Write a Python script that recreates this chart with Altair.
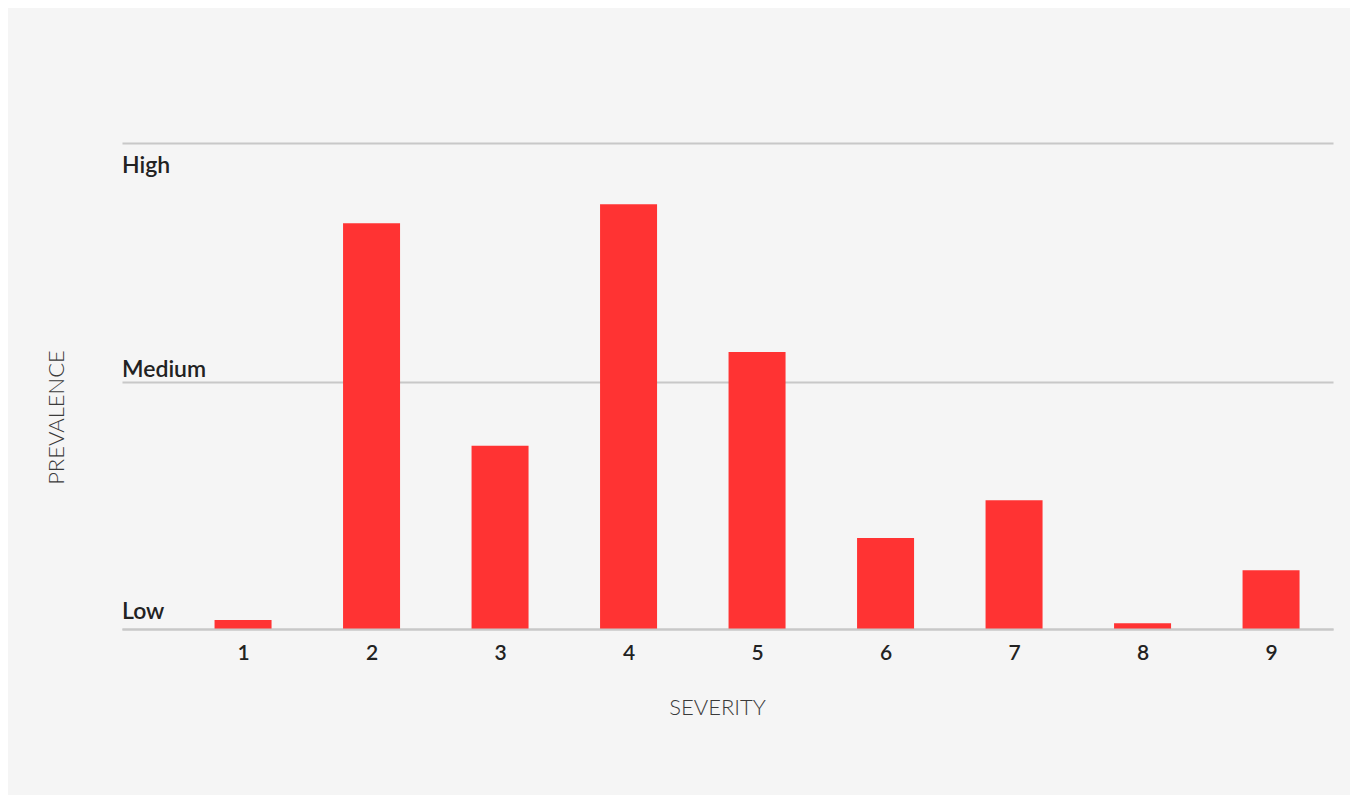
import altair as alt
import pandas as pd

severity = [1, 2, 3, 4, 5, 6, 7, 8, 9]
prevalence = [1.85, 83.5, 37.7, 87.4, 57.0, 18.7, 26.5, 1.2, 12.1]

level_labels = ["High", "Medium", "Low"]
level_values = [100, 50.76, 0]

bars_df = pd.DataFrame({"severity": severity, "prevalence": prevalence})
levels_df = pd.DataFrame({"label": level_labels, "value": level_values})

FONT = "Lato"
BAR = "#ff3333"
GRID = "#c8c8c8"

x_enc = alt.X(
    "severity:Q",
    scale=alt.Scale(domain=[0.058, 9.482], nice=False, zero=False, padding=0),
    axis=alt.Axis(
        values=severity,
        format="d",
        title="SEVERITY",
        grid=False,
        ticks=False,
        domain=True,
        domainColor=GRID,
        domainWidth=2,
        labelFont=FONT,
        labelFontSize=21,
        labelFontWeight=600,
        labelColor="#222222",
        labelPadding=30,
        labelBaseline="alphabetic",
        titleFont=FONT,
        titleFontSize=22,
        titleFontWeight=300,
        titleColor="#3a3a3a",
        titleX=595,
        titleY=85,
        titleAlign="center",
        titleBaseline="alphabetic",
        zindex=1,
    ),
)

y_scale = alt.Scale(domain=[0, 100], nice=False, padding=0)

y_enc = alt.Y(
    "prevalence:Q",
    scale=y_scale,
    axis=alt.Axis(
        values=level_values,
        title="PREVALENCE",
        labels=False,
        ticks=False,
        domain=False,
        grid=True,
        gridColor=GRID,
        gridWidth=2,
        titleFont=FONT,
        titleFontSize=22,
        titleFontWeight=300,
        titleColor="#3a3a3a",
        titleAngle=270,
        titleX=-58.7,
        titleY=274,
        titleAlign="center",
        titleBaseline="alphabetic",
    ),
)

bars = alt.Chart(bars_df).mark_bar(size=57, color=BAR).encode(x=x_enc, y=y_enc)

label_dy = {"High": 29.7, "Medium": -5.6, "Low": -9.7}
label_layers = []
for lbl in level_labels:
    label_layers.append(
        alt.Chart(levels_df)
        .transform_filter(alt.datum.label == lbl)
        .mark_text(
            align="left",
            baseline="alphabetic",
            dy=label_dy[lbl],
            font=FONT,
            fontSize=23,
            fontWeight=600,
            color="#222222",
        )
        .encode(
            x=alt.value(0),
            y=alt.Y("value:Q", scale=y_scale),
            text="label:N",
        )
    )

chart = (
    alt.layer(bars, *label_layers)
    .properties(
        width=1211,
        height=486,
        background="#f5f5f5",
        padding={"left": 114, "top": 135, "right": 17, "bottom": 166},
        autosize=alt.AutoSizeParams(type="none"),
    )
    .configure_view(stroke=None)
)

chart.save("out.html", embed_options={"renderer": "svg", "actions": False})
